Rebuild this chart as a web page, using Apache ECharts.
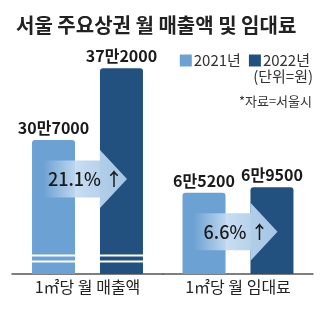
<!DOCTYPE html>
<html><head><meta charset="utf-8">
<script src="https://cdn.jsdelivr.net/npm/echarts@6.0.0/dist/echarts.min.js"></script>
<style>html,body{margin:0;padding:0;background:#fff}#c{width:329px;height:332px}</style>
</head><body><div id="c"></div>
<script>
// Seoul main commercial districts: monthly sales and rent per square metre (won)
const categories = ['1㎡당 월 매출액', '1㎡당 월 임대료'];
const years = ['2021년', '2022년'];
const sales = [307000, 372000];
const rent = [65200, 69500];
const growth = ['21.1% ↑', '6.6% ↑'];

const LIGHT = '#6ca1d3';
const DARK = '#22507f';
const KR = "'Noto Sans CJK KR', sans-serif";

const won = v => Math.floor(v / 10000) + '만' + (v % 10000);

const chart = echarts.init(document.getElementById('c'), null, { renderer: 'canvas' });

function barSeries(name, xi, value, color) {
  return {
    type: 'bar', name, xAxisIndex: xi, yAxisIndex: xi,
    data: [value], barWidth: 43, barGap: '58%',
    itemStyle: { color, borderRadius: [3, 3, 0, 0] },
    label: {
      show: true, position: 'top', distance: 4,
      formatter: p => won(p.value),
      fontFamily: KR, fontWeight: 'bold', fontSize: 16, color: '#1a1a1a'
    },
    silent: true
  };
}

const hiddenY = {
  type: 'value', min: 0,
  axisLine: { show: false }, axisTick: { show: false },
  axisLabel: { show: false }, splitLine: { show: false }
};

const catAxis = (gi, label) => ({
  type: 'category', gridIndex: gi, data: [label],
  axisLine: { lineStyle: { color: '#555', width: 1.5 } },
  axisTick: { show: false },
  axisLabel: { fontSize: 16, color: '#222', margin: 5, fontFamily: KR }
});

chart.setOption({
  animation: false,
  backgroundColor: '#fff',
  title: {
    text: '서울 주요상권 월 매출액 및 임대료', left: 11, top: 10,
    textStyle: { fontSize: 20, fontWeight: 'bold', color: '#222', fontFamily: KR }
  },
  legend: {
    data: years, right: 14, top: 48, icon: 'rect',
    itemWidth: 12, itemHeight: 12, itemGap: 8,
    textStyle: { fontSize: 15, color: '#333', fontFamily: KR, padding: [0, 0, 0, -3] },
    selectedMode: false
  },
  grid: [
    { left: 12, width: 151, top: 59.5, bottom: 58 },
    { left: 163, right: 16, top: 59.5, bottom: 58 }
  ],
  xAxis: [catAxis(0, categories[0]), catAxis(1, categories[1])],
  yAxis: [
    Object.assign({}, hiddenY, {
      gridIndex: 0, max: 380000,
      breaks: [{ start: 12000, end: 203000, gap: 5440 }],
      breakArea: {
        show: true, zigzagAmplitude: 0, zigzagZ: 100, expandOnClick: false,
        itemStyle: { color: 'rgba(255,255,255,0)', borderColor: '#fff', borderWidth: 2, borderType: 'solid', opacity: 1 }
      }
    }),
    Object.assign({}, hiddenY, { gridIndex: 1, max: 172000 })
  ],
  series: [
    barSeries(years[0], 0, sales[0], LIGHT),
    barSeries(years[1], 0, sales[1], DARK),
    barSeries(years[0], 1, rent[0], LIGHT),
    barSeries(years[1], 1, rent[1], DARK)
  ],
  graphic: [
    { id: 'unit', type: 'text', right: 16, top: 69,
      style: { text: '(단위=원)', fontSize: 15, fill: '#333', fontFamily: KR } },
    { id: 'src', type: 'text', right: 17, top: 95,
      style: { text: '*자료=서울시', fontSize: 13, fill: '#333', fontFamily: KR } }
  ]
});

// growth arrows placed from each group's category centre and its 2021 bar top
function arrow(gi, baseValue, text) {
  const cx = chart.convertToPixel({ xAxisIndex: gi }, 0);
  const top = chart.convertToPixel({ yAxisIndex: gi }, baseValue);
  const cy = top + 39;
  const x0 = cx - 44.5, xh = cx + 12.5, xt = cx + 39.5;
  const bh = 18.5, hh = 29;
  return [
    { id: 'arr' + gi, type: 'polygon', z: 50,
      shape: { points: [[x0, cy - bh], [xh, cy - bh], [xh, cy - hh], [xt, cy], [xh, cy + hh], [xh, cy + bh], [x0, cy + bh]] },
      style: { fill: { type: 'linear', x: 0, y: 0, x2: 1, y2: 0, colorStops: [
        { offset: 0, color: 'rgba(200,222,242,0)' },
        { offset: 0.4, color: 'rgba(196,219,240,0.95)' },
        { offset: 1, color: 'rgba(164,198,230,1)' }
      ] } } },
    { id: 'txt' + gi, type: 'text', z: 60,
      x: cx - 2, y: cy,
      style: { text, fontSize: 18, fontWeight: 500, fill: '#1a1a1a', fontFamily: KR, align: 'center', verticalAlign: 'middle' } }
  ];
}

chart.setOption({ graphic: [].concat(arrow(0, sales[0], growth[0]), arrow(1, rent[0], growth[1])) });
</script>
</body></html>
